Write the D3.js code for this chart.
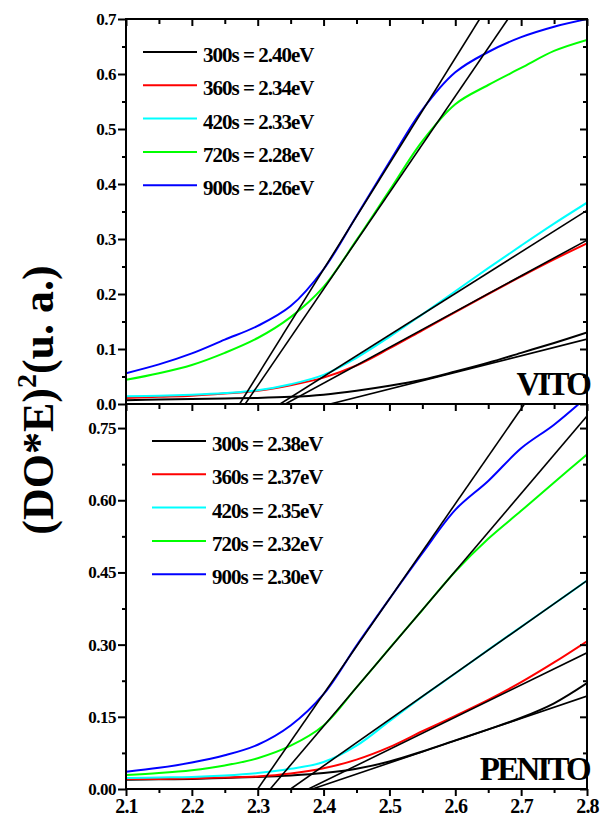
<!DOCTYPE html>
<html>
<head>
<meta charset="utf-8">
<script src="https://cdn.jsdelivr.net/npm/d3@7"></script>
<style>
  body { margin: 0; background: #fff; }
  svg text { font-family: "Liberation Serif", "Times New Roman", serif; font-weight: bold; fill: #000; }
</style>
</head>
<body>
<div id="chart"></div>
<script>
// photon energy grid (eV), shared by every curve
const energy = [2.10, 2.15, 2.20, 2.25, 2.30, 2.35, 2.40, 2.45, 2.50, 2.55, 2.60, 2.65, 2.70, 2.75, 2.80];
const xTicks = [2.1, 2.2, 2.3, 2.4, 2.5, 2.6, 2.7, 2.8];
const xMinor = [2.15, 2.25, 2.35, 2.45, 2.55, 2.65, 2.75];

const seriesNames = ["300s", "360s", "420s", "720s", "900s"];
const seriesColors = ["#000000", "#ff0000", "#00ffff", "#00ff00", "#0000ff"];

// VITO panel
const vitoGaps = ["2.40", "2.34", "2.33", "2.28", "2.26"];
const vito300 = [0.007, 0.008, 0.009, 0.010, 0.011, 0.013, 0.017, 0.024, 0.033, 0.044, 0.059, 0.075, 0.093, 0.111, 0.130];
const vito360 = [0.011, 0.013, 0.015, 0.019, 0.024, 0.034, 0.048, 0.070, 0.101, 0.134, 0.167, 0.200, 0.232, 0.263, 0.292];
const vito420 = [0.014, 0.015, 0.017, 0.020, 0.025, 0.036, 0.053, 0.084, 0.122, 0.163, 0.205, 0.247, 0.288, 0.328, 0.366];
const vito720 = [0.044, 0.056, 0.071, 0.093, 0.120, 0.158, 0.213, 0.298, 0.388, 0.478, 0.545, 0.580, 0.611, 0.642, 0.662];
const vito900 = [0.056, 0.072, 0.092, 0.117, 0.142, 0.178, 0.245, 0.342, 0.440, 0.535, 0.603, 0.640, 0.667, 0.686, 0.700];
// linear fits: [start, end] in (eV, value)
const vitoFits = [
  [[2.410, 0], [2.80, 0.118]],
  [[2.342, 0], [2.80, 0.298]],
  [[2.334, 0], [2.80, 0.352]],
  [[2.281, 0], [2.68, 0.700]],
  [[2.2725, 0], [2.637, 0.700]]
];
const vitoTicks = [0, 0.1, 0.2, 0.3, 0.4, 0.5, 0.6, 0.7];
const vitoMinor = [0.05, 0.15, 0.25, 0.35, 0.45, 0.55, 0.65];

// PENITO panel
const penitoGaps = ["2.38", "2.37", "2.35", "2.32", "2.30"];
const penito300 = [0.019, 0.020, 0.021, 0.023, 0.025, 0.028, 0.033, 0.042, 0.057, 0.078, 0.101, 0.124, 0.148, 0.178, 0.220];
const penito360 = [0.021, 0.021, 0.022, 0.024, 0.026, 0.032, 0.043, 0.061, 0.087, 0.120, 0.152, 0.185, 0.222, 0.263, 0.307];
const penito420 = [0.023, 0.024, 0.025, 0.028, 0.033, 0.042, 0.056, 0.090, 0.141, 0.192, 0.240, 0.289, 0.337, 0.385, 0.433];
const penito720 = [0.029, 0.033, 0.039, 0.049, 0.064, 0.090, 0.132, 0.211, 0.292, 0.372, 0.452, 0.520, 0.578, 0.637, 0.695];
const penito900 = [0.036, 0.044, 0.055, 0.070, 0.092, 0.132, 0.197, 0.298, 0.395, 0.490, 0.580, 0.640, 0.708, 0.757, 0.815];
const penitoFits = [
  [[2.383, 0], [2.80, 0.193]],
  [[2.377, 0], [2.80, 0.283]],
  [[2.350, 0], [2.80, 0.433]],
  [[2.319, 0], [2.80, 0.775]],
  [[2.300, 0], [2.705, 0.800]]
];
const penitoTicks = [0, 0.15, 0.30, 0.45, 0.60, 0.75];
const penitoMinor = [0.075, 0.225, 0.375, 0.525, 0.675];

const W = 600, H = 824;
const left = 126, right = 587;

const svg = d3.select("#chart")
  .append("svg")
  .attr("width", W)
  .attr("height", H);

const x = d3.scaleLinear().domain([2.1, 2.8]).range([left, right]);

const line = d3.line().curve(d3.curveCatmullRom.alpha(0.5));

function drawPanel(p) {
  const y = d3.scaleLinear().domain(p.yDomain).range([p.bottom, p.top]);
  const g = svg.append("g");

  g.append("clipPath").attr("id", p.id + "-clip")
    .append("rect")
    .attr("x", left).attr("y", p.top)
    .attr("width", right - left).attr("height", p.bottom - p.top);

  const plot = g.append("g").attr("clip-path", `url(#${p.id}-clip)`);

  line.x((d) => x(d[0])).y((d) => y(d[1]));

  // measured curves
  p.series.forEach((vals, i) => {
    plot.append("path")
      .datum(energy.map((e, k) => [e, vals[k]]))
      .attr("fill", "none")
      .attr("stroke", seriesColors[i])
      .attr("stroke-width", 2)
      .attr("d", line);
  });

  // fitted straight lines
  p.fits.forEach((f) => {
    plot.append("line")
      .attr("x1", x(f[0][0])).attr("y1", y(f[0][1]))
      .attr("x2", x(f[1][0])).attr("y2", y(f[1][1]))
      .attr("stroke", "#000")
      .attr("stroke-width", 1.6);
  });

  // left axis, outward ticks with labels
  const yl = g.append("g").attr("transform", `translate(${left},0)`)
    .call(d3.axisLeft(y).tickValues(p.ticks).tickSize(8).tickPadding(2).tickFormat(d3.format(p.fmt)));
  g.append("g").attr("transform", `translate(${left},0)`)
    .call(d3.axisLeft(y).tickValues(p.minor).tickSize(4).tickFormat(""));
  yl.selectAll("text").style("font-size", "17px").style("letter-spacing", "-0.5px");

  // right axis, inward ticks
  g.append("g").attr("transform", `translate(${right},0)`)
    .call(d3.axisRight(y).tickValues(p.ticks).tickSize(-7).tickFormat(""));
  g.append("g").attr("transform", `translate(${right},0)`)
    .call(d3.axisRight(y).tickValues(p.minor).tickSize(-4).tickFormat(""));

  // top edge ticks point down into the panel
  g.append("g").attr("transform", `translate(0,${p.top})`)
    .call(d3.axisBottom(x).tickValues(xTicks).tickSize(7).tickFormat(""));
  g.append("g").attr("transform", `translate(0,${p.top})`)
    .call(d3.axisBottom(x).tickValues(xMinor).tickSize(5).tickFormat(""));

  g.selectAll(".domain").remove();
  g.selectAll(".tick line").attr("stroke", "#000").attr("stroke-width", 2);

  // frame
  g.append("rect")
    .attr("x", left).attr("y", p.top)
    .attr("width", right - left).attr("height", p.bottom - p.top)
    .attr("fill", "none").attr("stroke", "#000").attr("stroke-width", 2);

  // legend
  const lg = g.append("g");
  p.gaps.forEach((gap, i) => {
    const ly = p.legendY + i * 33.3;
    lg.append("line")
      .attr("x1", p.legendX).attr("x2", p.legendX + 54)
      .attr("y1", ly).attr("y2", ly)
      .attr("stroke", seriesColors[i]).attr("stroke-width", 2);
    lg.append("text")
      .attr("x", p.legendX + 60).attr("y", ly + 10)
      .style("font-size", "21px").style("letter-spacing", "-1px")
      .text(`${seriesNames[i]} = ${gap}eV`);
  });

  // sample name
  g.append("text")
    .attr("x", right + 2).attr("y", p.bottom - 9)
    .attr("text-anchor", "end")
    .style("font-size", "33px").style("letter-spacing", "-2.8px")
    .text(p.name);

  return y;
}

drawPanel({
  id: "vito", name: "VITO", top: 19, bottom: 404, yDomain: [0, 0.7],
  ticks: vitoTicks, minor: vitoMinor, fmt: ".1f",
  series: [vito300, vito360, vito420, vito720, vito900],
  fits: vitoFits, gaps: vitoGaps, legendX: 143, legendY: 52
});

drawPanel({
  id: "penito", name: "PENITO", top: 404, bottom: 789, yDomain: [0, 0.8],
  ticks: penitoTicks, minor: penitoMinor, fmt: ".2f",
  series: [penito300, penito360, penito420, penito720, penito900],
  fits: penitoFits, gaps: penitoGaps, legendX: 152, legendY: 441
});

// bottom energy axis, outward ticks with labels
const xa = svg.append("g").attr("transform", "translate(0,789)")
  .call(d3.axisBottom(x).tickValues(xTicks).tickSize(7).tickPadding(3).tickFormat(d3.format(".1f")));
svg.append("g").attr("transform", "translate(0,789)")
  .call(d3.axisBottom(x).tickValues(xMinor).tickSize(4).tickFormat(""));
svg.selectAll(".domain").remove();
svg.selectAll(".tick line").attr("stroke", "#000").attr("stroke-width", 2);
xa.selectAll("text").style("font-size", "20px").style("letter-spacing", "-0.8px");

// y axis title
const title = svg.append("text")
  .attr("transform", "translate(53,400) rotate(-90)")
  .attr("text-anchor", "middle")
  .style("font-size", "44px");
title.append("tspan").text("(DO*E)");
title.append("tspan").attr("dy", -17).style("font-size", "28px").text("2");
title.append("tspan").attr("dy", 17).text("(u. a.)");
</script>
</body>
</html>
